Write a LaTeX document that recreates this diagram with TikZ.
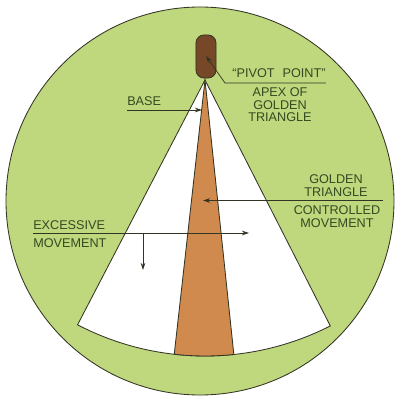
\documentclass[tikz,border=0pt]{standalone}
\usepackage{fontspec}
\setmainfont{Liberation Sans}
\usepackage{xcolor}
\usetikzlibrary{arrows.meta, positioning}
\definecolor{discgreen}{RGB}{191,215,125}
\definecolor{basebrown}{RGB}{209,138,78}
\definecolor{pivotbrown}{RGB}{118,72,40}
\definecolor{edgedark}{RGB}{50,52,36}
\definecolor{labeltext}{RGB}{52,74,34}

\begin{document}
\begin{tikzpicture}[x=0.025cm, y=0.025cm, every node/.style={inner sep=0pt, align=center, text=labeltext, font=\fontsize{9}{9.2}\selectfont},
  outline/.style={draw=edgedark, line width=0.6pt},
  leader/.style={draw=edgedark, line width=0.5pt},
  pointer/.style={-{Stealth[length=5pt, width=3.2pt]}}]
\useasboundingbox (0,0) rectangle (396,396);
\fill[white] (0,0) rectangle (396,396);
\coordinate (apex) at (205,316);
\draw[outline, fill=discgreen] (200,195) circle (194);
\draw[outline, fill=white] (apex) -- ++(-117.5:276) arc[start angle=-117.5, end angle=-63, radius=276] -- cycle;
\draw[outline, fill=basebrown] (apex) -- ++(-96.4:276) arc[start angle=-96.4, end angle=-84, radius=276] -- cycle;
\node[draw=edgedark, line width=0.6pt, fill=pivotbrown, rounded corners=0.2cm, minimum width=0.5cm, minimum height=1.075cm] (pivot) at (206,339.5) {};
\node[anchor=base] (pivotlbl) at (279,318) {“PIVOT\hspace{0.35em} POINT”};
\node[anchor=north] (apexlbl) at (280,309) {APEX OF\\GOLDEN\\TRIANGLE};
\node[anchor=base west] (baselbl) at (127,290) {BASE};
\node[anchor=south] (goldenlbl) at (336,199) {GOLDEN\\TRIANGLE};
\node[anchor=north] (controllbl) at (337,191) {CONTROLLED\\MOVEMENT};
\node[anchor=base west] (excesslbl) at (33,166) {EXCESSIVE};
\node[anchor=north west] (movelbl) at (33,158) {MOVEMENT};
\coordinate (pivotbend) at (225,313);
\coordinate (pivottip) at (206,340);
\coordinate (basetip) at (202,286);
\coordinate (goldenend) at (383,195.5);
\coordinate (goldentip) at (203,195.5);
\coordinate (excesstip) at (249,163);
\coordinate (droptip) at (143,126);
\draw[leader, pointer] (pivotlbl.east |- pivotbend) -- (pivotbend) -- (pivottip);
\draw[leader, pointer] (baselbl.west |- basetip) -- (basetip);
\draw[leader, pointer] (goldenend) -- (goldentip);
\draw[leader, pointer] (excesslbl.west |- excesstip) -- (excesstip);
\draw[leader, pointer] (droptip |- excesstip) -- (droptip);
\end{tikzpicture}
\end{document}
